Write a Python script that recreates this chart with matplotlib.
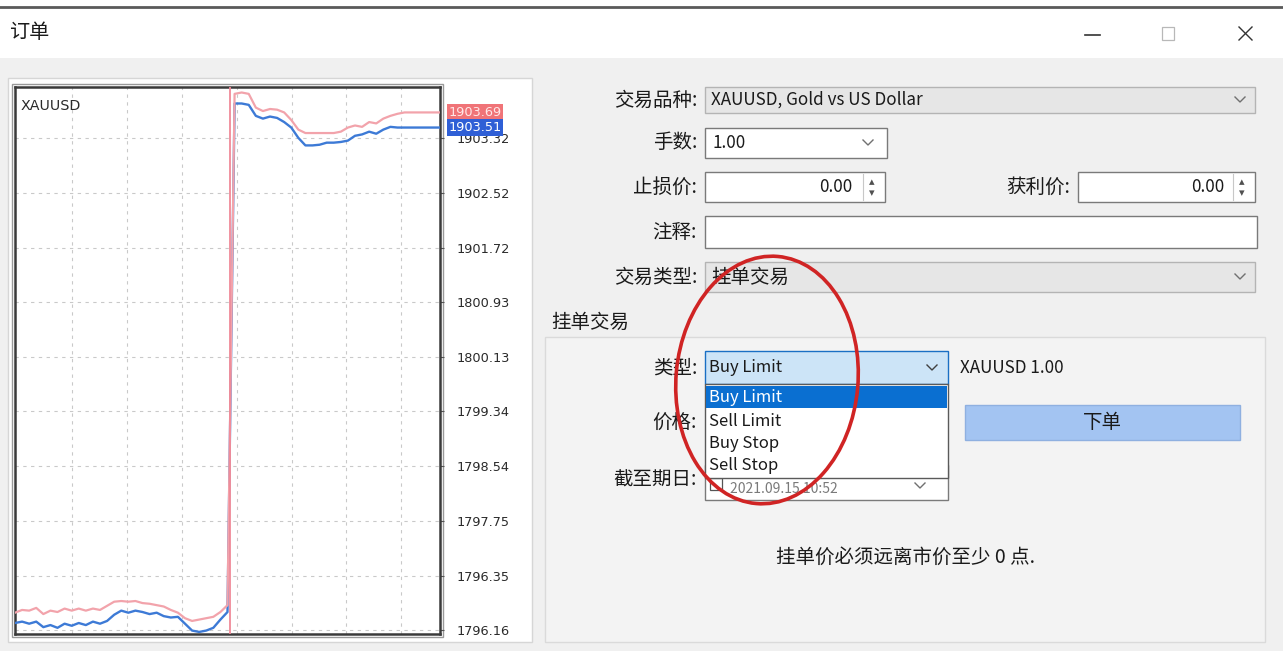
import numpy as np
import matplotlib
matplotlib.use("Agg")
import matplotlib.pyplot as plt
from matplotlib.patches import Rectangle, Ellipse

plt.rcParams['font.family'] = ['Noto Sans CJK SC', 'DejaVu Sans']

# ---------------- data ----------------
symbol = "XAUUSD"
bid = [1796.26, 1796.28, 1796.25, 1796.28, 1796.20, 1796.23, 1796.19, 1796.25, 1796.22, 1796.26,
       1796.23, 1796.28, 1796.25, 1796.29, 1796.38, 1796.44, 1796.41, 1796.44, 1796.42, 1796.39,
       1796.41, 1796.36, 1796.34, 1796.35, 1796.25, 1796.15, 1796.13, 1796.15, 1796.19, 1796.31,
       1796.42,
       1803.82, 1803.82, 1803.80, 1803.64, 1803.60, 1803.63, 1803.61, 1803.55, 1803.47, 1803.32,
       1803.21, 1803.21, 1803.22, 1803.25, 1803.25, 1803.26, 1803.28, 1803.35, 1803.37, 1803.41,
       1803.38, 1803.44, 1803.48, 1803.47, 1803.47, 1803.47, 1803.47, 1803.47, 1803.47, 1803.47]
ask = [1796.41, 1796.45, 1796.44, 1796.48, 1796.39, 1796.44, 1796.42, 1796.47, 1796.44, 1796.47,
       1796.44, 1796.47, 1796.45, 1796.51, 1796.57, 1796.58, 1796.57, 1796.58, 1796.55, 1796.54,
       1796.52, 1796.50, 1796.45, 1796.41, 1796.33, 1796.29, 1796.31, 1796.33, 1796.35, 1796.42,
       1796.52,
       1803.96, 1803.98, 1803.96, 1803.76, 1803.71, 1803.74, 1803.73, 1803.69, 1803.58, 1803.44,
       1803.39, 1803.39, 1803.39, 1803.39, 1803.39, 1803.41, 1803.47, 1803.50, 1803.48, 1803.55,
       1803.53, 1803.60, 1803.64, 1803.67, 1803.69, 1803.69, 1803.69, 1803.69, 1803.69, 1803.69]
price_ticks = [1796.16, 1796.95, 1797.75, 1798.54, 1799.34, 1800.13, 1800.93, 1801.72, 1802.52, 1803.32]
price_labels = ["1796.16", "1796.35", "1797.75", "1798.54", "1799.34", "1800.13", "1800.93",
                "1901.72", "1902.52", "1903.32"]
ask_label = "1903.69"
bid_label = "1903.51"

window_title = "订单"
field_labels = ["交易品种:", "手数:", "止损价:", "注释:", "交易类型:"]
symbol_text = "XAUUSD, Gold vs US Dollar"
volume_text = "1.00"
sl_text = "0.00"
tp_label = "获利价:"
tp_text = "0.00"
exec_type = "挂单交易"
group_title = "挂单交易"
pending_labels = ["类型:", "价格:", "截至期日:"]
order_types = ["Buy Limit", "Sell Limit", "Buy Stop", "Sell Stop"]
selected_type = "Buy Limit"
summary_text = "XAUUSD 1.00"
button_text = "下单"
expiry_text = "2021.09.15 10:52"
note_text = "挂单价必须远离市价至少 0 点."

# ---------------- figure ----------------
W, H = 1283, 651
fig = plt.figure(figsize=(W / 100, H / 100), dpi=100, facecolor='#f0f0f0')
ui = fig.add_axes([0, 0, 1, 1], zorder=0)
ui.set_xlim(0, W)
ui.set_ylim(H, 0)
ui.axis('off')

CJK = 14
LAT = 12.3


def rect(x0, y0, x1, y1, fc='white', ec='#7a7a7a', lw=1.0, z=1):
    ui.add_patch(Rectangle((x0, y0), x1 - x0, y1 - y0, facecolor=fc, edgecolor=ec, lw=lw, zorder=z))


def txt(x, y, s, size=CJK, ha='left', color='#1a1a1a', z=5, **kw):
    ui.text(x, y, s, fontsize=size, ha=ha, va='center', color=color, zorder=z, **kw)


def chevron(cx, cy, color='#707070', z=4):
    ui.plot([cx - 5, cx, cx + 5], [cy - 3, cy + 2, cy - 3], color=color, lw=1.0, zorder=z)


def spinner(cx, cy, z=4):
    ui.plot([cx - 9, cx - 9], [cy - 13, cy + 13], color='#c8c8c8', lw=0.8, zorder=z)
    ui.text(cx, cy - 5, "▴", fontsize=8, ha='center', va='center', color='#505050',
            family='DejaVu Sans', zorder=z)
    ui.text(cx, cy + 6, "▾", fontsize=8, ha='center', va='center', color='#505050',
            family='DejaVu Sans', zorder=z)


# title bar
rect(0, 0, W, 58, fc='white', ec='none', z=0.5)
ui.plot([0, W], [7, 7], color='#5a5a5a', lw=2, zorder=1)
txt(9, 33, window_title, size=14.5)
ui.plot([1085, 1100], [35, 35], color='#333333', lw=1.2, zorder=2)
rect(1162, 27, 1174, 40, fc='none', ec='#b8b8b8', lw=0.9, z=2)
ui.plot([1239, 1252], [27, 40], color='#333333', lw=1.0, zorder=2)
ui.plot([1239, 1252], [40, 27], color='#333333', lw=1.0, zorder=2)

# chart panel background
rect(8, 78, 532, 642, fc='white', ec='#d6d6d6', z=0.6)
rect(12, 84, 443, 637, fc='none', ec='#9a9a9a', lw=1.0, z=0.7)

# ---------------- price chart ----------------
x0p, x1p, y0p, y1p = 15, 440, 87, 634
ax = fig.add_axes([x0p / W, 1 - y1p / H, (x1p - x0p) / W, (y1p - y0p) / H], zorder=2)
ax.set_facecolor('white')
xs = np.arange(len(bid))
ax.plot(xs, bid, color='#3d7ad6', lw=1.7, zorder=3)
ax.plot(xs, ask, color='#f2a3ab', lw=1.6, zorder=4)
jump = int(np.argmax(np.diff(ask)))
ax.axvline(jump + 0.3, color='#f08a98', lw=1.3, zorder=4)
ax.set_xlim(0, len(bid) - 1)
ax.set_ylim(1796.10, 1804.06)
ax.set_xticks(np.arange(8.05, len(bid) - 1, 7.75))
ax.set_xticklabels([])
ax.tick_params(axis='x', length=0)
ax.yaxis.tick_right()
ax.set_yticks(price_ticks)
ax.set_yticklabels(price_labels, family='DejaVu Sans', fontsize=9.3, color='#2a2a2a')
ax.tick_params(axis='y', length=3, width=0.8, color='#555555', pad=9)
ax.grid(True, color='#c9c9c9', lw=0.8, ls=(0, (3, 4)))
for s in ax.spines.values():
    s.set_color('#3a3a3a')
    s.set_linewidth(1.8)
ax.text(0.012, 0.978, symbol, transform=ax.transAxes, fontsize=10.3, family='DejaVu Sans',
        color='#2a2a2a', va='top', ha='left')
ytr = ax.get_yaxis_transform()
ax.text(1.02, ask[-1], ask_label, transform=ytr, fontsize=9.3, family='DejaVu Sans',
        color='#ffe8e8', va='center', ha='left', clip_on=False, zorder=6,
        bbox=dict(boxstyle='square,pad=0.12', fc='#f07478', ec='none'))
ax.text(1.02, bid[-1], bid_label, transform=ytr, fontsize=9.3, family='DejaVu Sans',
        color='white', va='center', ha='left', clip_on=False, zorder=7,
        bbox=dict(boxstyle='square,pad=0.12', fc='#2f5fd6', ec='none'))

# ---------------- order form ----------------
LX = 697
label_y = [100, 143, 187, 232, 277]
for s, y in zip(field_labels, label_y):
    txt(LX, y, s, ha='right')

# symbol combo
rect(705, 87, 1255, 113, fc='#e6e6e6', ec='#b4b4b4')
txt(711, 100, symbol_text, size=LAT)
chevron(1240, 100)
# volume combo
rect(705, 128, 887, 158, fc='white', ec='#7a7a7a')
txt(712, 143, volume_text, size=LAT)
chevron(868, 143)
# stop loss
rect(705, 172, 885, 202, fc='white', ec='#7a7a7a')
txt(852, 187, sl_text, size=LAT, ha='right')
spinner(872, 187)
# take profit
txt(1070, 187, tp_label, ha='right')
rect(1078, 172, 1255, 202, fc='white', ec='#7a7a7a')
txt(1224, 187, tp_text, size=LAT, ha='right')
spinner(1242, 187)
# comment
rect(705, 216, 1257, 248, fc='white', ec='#7a7a7a')
# execution type combo
rect(705, 262, 1255, 292, fc='#e6e6e6', ec='#b4b4b4')
txt(711, 277, exec_type, size=CJK)
chevron(1240, 277)

# pending group
txt(551, 322, group_title, size=CJK)
rect(545, 337, 1265, 642, fc='#f3f3f3', ec='#dadada', z=0.8)
pend_y = [368, 423, 480]
for s, y in zip(pending_labels, pend_y):
    txt(LX, y, s, ha='right')

# type combo (open)
rect(705, 351, 948, 384, fc='#cce4f7', ec='#1a6fc4', z=2)
txt(709, 368, selected_type, size=12)
chevron(932, 368, color='#404040')
txt(960, 368, summary_text, size=LAT)

# place order button
rect(965, 405, 1240, 440, fc='#a3c4f2', ec='#8fb0e0', z=2)
txt(1102, 422, button_text, size=CJK, ha='center')

# expiry field
rect(705, 465, 948, 500, fc='white', ec='#7a7a7a', z=2)
rect(710, 478, 722, 490, fc='white', ec='#555555', lw=0.9, z=3)
txt(730, 489, expiry_text, size=10, color='#7a7a7a', z=3)
chevron(920, 486, z=3)

# dropdown list
rect(705, 384, 948, 478, fc='white', ec='#5a5a5a', z=6)
rect(706, 386, 947, 408, fc='#0a6fd1', ec='none', z=6.5)
item_y = [398, 421, 443, 465]
for s, y in zip(order_types, item_y):
    txt(709, y, s, size=12, color='white' if s == selected_type else '#1a1a1a', z=7)

# note
txt(906, 557, note_text, ha='center', size=CJK)

# red ellipse annotation
ui.add_patch(Ellipse((767, 380), 182, 248, angle=5, facecolor='none', edgecolor='#d02424',
                     lw=2.6, zorder=9))

fig.savefig("out.png", dpi=100, facecolor=fig.get_facecolor())
